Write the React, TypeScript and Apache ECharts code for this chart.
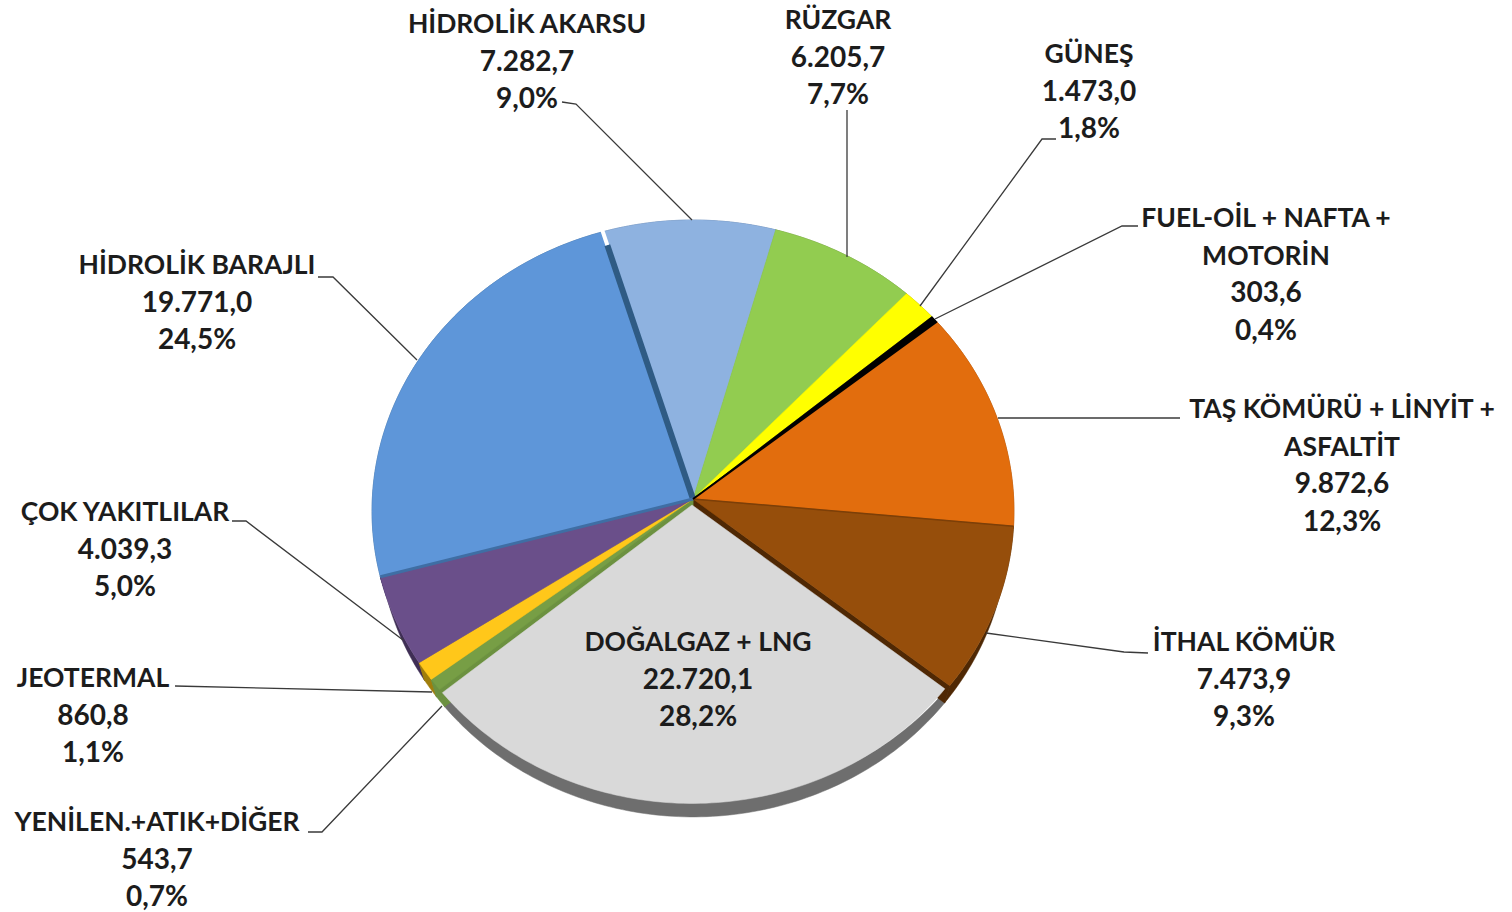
import React, { useEffect, useRef } from "react";
import * as echarts from "echarts";

// ---- data (clockwise from the top) ----
const names = [
  "HİDROLİK AKARSU",
  "RÜZGAR",
  "GÜNEŞ",
  "FUEL-OİL + NAFTA +\nMOTORİN",
  "TAŞ KÖMÜRÜ + LİNYİT +\nASFALTİT",
  "İTHAL KÖMÜR",
  "DOĞALGAZ + LNG",
  "YENİLEN.+ATIK+DİĞER",
  "JEOTERMAL",
  "ÇOK YAKITLILAR",
  "HİDROLİK BARAJLI",
];
const values = [7282.7, 6205.7, 1473.0, 303.6, 9872.6, 7473.9, 22720.1, 543.7, 860.8, 4039.3, 19771.0];
const valueLabels = ["7.282,7", "6.205,7", "1.473,0", "303,6", "9.872,6", "7.473,9", "22.720,1", "543,7", "860,8", "4.039,3", "19.771,0"];
const percentLabels = ["9,0%", "7,7%", "1,8%", "0,4%", "12,3%", "9,3%", "28,2%", "0,7%", "1,1%", "5,0%", "24,5%"];

// ---- styles and layout ----
const topColors = ["#8EB2E0", "#92CC50", "#FFFF00", "#000000", "#E26D0D", "#964E0B", "#D9D9D9", "#779E45", "#FFC71A", "#6A4F8A", "#5E96D9"];
const sideColors = ["#4f6f99", "#5c8030", "#a0a000", "#000000", "#8a4206", "#4F2804", "#6E6E6E", "#6C9140", "#a07e0c", "#3f2e55", "#33608c"];
// painting order of the slice sides: the forward slice first, then the walls that must show beside it last
const sideOrder = [6, 10, 9, 8, 0, 1, 2, 3, 4, 5, 7];
// edge drawn along the start of a slice: [slice, colour, width, from, to]
const walls: [number, string, number, number, number][] = [
  [0, "#2F5B84", 6, 0, 0.95],
  [0, "#FFFFFF", 4, 0.95, 1.02],
  [10, "#3F6EA4", 3, 0, 1],
  [5, "#7C3F08", 1.5, 0, 1],
  [4, "#000000", 2, 0, 1],
];
const FONT = "Lato";
const NAME_SIZE = 26.5;
const NUMBER_SIZE = 28;
const LINE_H = 37.5;
const START = -17;
const AX = 693, AY = 499, A = 320.7, B = 290.5, K = 0.0412;
const DEPTH = 21;
const SIDE_SCALE = 0.98;
// slice displacement: DOĞALGAZ sits slightly forward of the others
const shifts: Record<number, { x: number; y: number; s: number }> = {
  6: { x: -1, y: 6, s: 0.985 },
};
const labelPos: [number, number][] = [
  [527, 23], [838, 19], [1089, 53], [1266, 217], [1342, 408], [1244, 641], [698, 641], [157, 821], [93, 677], [125, 511], [197, 264],
];
const leaders: number[][][] = [
  [[562, 102], [576, 104], [692, 220]],
  [[847, 110], [847, 257]],
  [[1056, 139], [1042, 139], [920, 306]],
  [[1138, 226], [1122, 226], [935, 319]],
  [[1180, 418], [998, 418]],
  [[1148, 653], [1124, 652], [986, 633]],
  [[175, 686], [432, 692]],
  [[308, 832], [322, 832], [442, 706]],
  [[232, 521], [246, 521], [403, 640]],
  [[318, 277], [333, 277], [417, 360]],
];

const total = values.reduce((a, b) => a + b, 0);
const startAngles = values.map((_, i) => START + (values.slice(0, i).reduce((a, b) => a + b, 0) / total) * 360);

function project(deg: number, scale = 1, ox = 0, oy = 0): number[] {
  const r = (deg * Math.PI) / 180;
  const u = Math.sin(r);
  const v = -Math.cos(r);
  const d = 1 - K * v;
  return [AX + ox + (scale * A * u) / d, AY + oy + (scale * B * v) / d];
}

function arc(i: number, value: number, scale: number, ox: number, oy: number) {
  const a0 = startAngles[i];
  const a1 = a0 + (value / total) * 360;
  const steps = Math.max(2, Math.ceil(a1 - a0));
  const pts: number[][] = [];
  for (let s = 0; s <= steps; s++) pts.push(project(a0 + ((a1 - a0) * s) / steps, scale, ox, oy));
  return pts;
}

// the extruded side of a slice: outer band plus the two radial walls
function sideParts(i: number, value: number) {
  const a0 = startAngles[i];
  const a1 = a0 + (value / total) * 360;
  const bottomApex = [AX, AY + DEPTH];
  const wall = (a: number) => [[AX, AY], project(a), project(a, SIDE_SCALE, 0, DEPTH), bottomApex];
  return [
    wall(a0),
    wall(a1),
    [...arc(i, value, 1, 0, 0), ...arc(i, value, SIDE_SCALE, 0, DEPTH).reverse()],
  ];
}

export default function App() {
  const ref = useRef<HTMLDivElement>(null);
  useEffect(() => {
    document.body.style.margin = "0";
    const chart = echarts.init(ref.current!, null, { renderer: "svg" });
    const data = values.map((v) => [v]);
    chart.setOption({
      animation: false,
      backgroundColor: "#ffffff",
      series: [
        {
          type: "custom",
          coordinateSystem: "none",
          silent: true,
          z: 1,
          data: sideOrder.map((i) => [values[i], i]),
          renderItem: (p: any, api: any) => {
            const i = api.value(1);
            return {
              type: "group",
              children: sideParts(i, api.value(0)).map((points) => ({
                type: "polygon",
                shape: { points },
                style: { fill: sideColors[i], stroke: sideColors[i], lineWidth: 0.5 },
              })),
            };
          },
        },
        {
          type: "custom",
          coordinateSystem: "none",
          silent: true,
          z: 2,
          data,
          renderItem: (p: any, api: any) => {
            const i = p.dataIndex;
            const sh = shifts[i] || { x: 0, y: 0, s: 1 };
            return {
              type: "polygon",
              shape: { points: [[AX + sh.x, AY + sh.y], ...arc(i, api.value(0), sh.s, sh.x, sh.y)] },
              style: { fill: topColors[i], stroke: topColors[i], lineWidth: 0.5 },
            };
          },
        },
        {
          type: "custom",
          coordinateSystem: "none",
          silent: true,
          z: 3,
          data: walls.map((w) => [w[0]]),
          renderItem: (p: any, api: any) => {
            const w = walls[p.dataIndex];
            const a = startAngles[api.value(0)];
            const from = project(a, w[3]);
            const to = project(a, w[4]);
            return {
              type: "line",
              shape: { x1: from[0], y1: from[1], x2: to[0], y2: to[1] },
              style: { stroke: w[1], lineWidth: w[2] },
            };
          },
        },
      ],
      graphic: [
        ...leaders.map((pts) => ({
          type: "polyline",
          z: 10,
          silent: true,
          shape: { points: pts },
          style: { stroke: "#3a3a3a", lineWidth: 1.3, fill: "none" },
        })),
        ...names.map((n, i) => ({
          type: "text",
          z: 11,
          silent: true,
          x: labelPos[i][0],
          y: labelPos[i][1] - LINE_H / 2,
          style: {
            text: n,
            fill: "#1c1c1c",
            font: `bold ${NAME_SIZE}px ${FONT}`,
            lineHeight: LINE_H,
            align: "center",
            verticalAlign: "top",
          },
        })),
        ...names.map((n, i) => ({
          type: "text",
          z: 11,
          silent: true,
          x: labelPos[i][0],
          y: labelPos[i][1] - LINE_H / 2 - 1 + n.split("\n").length * LINE_H,
          style: {
            text: `${valueLabels[i]}\n${percentLabels[i]}`,
            fill: "#1c1c1c",
            font: `bold ${NUMBER_SIZE}px ${FONT}`,
            lineHeight: LINE_H,
            align: "center",
            verticalAlign: "top",
          },
        })),
      ],
    });
    return () => chart.dispose();
  }, []);
  return <div ref={ref} style={{ position: "fixed", left: 0, top: 0, width: 1512, height: 912 }} />;
}
